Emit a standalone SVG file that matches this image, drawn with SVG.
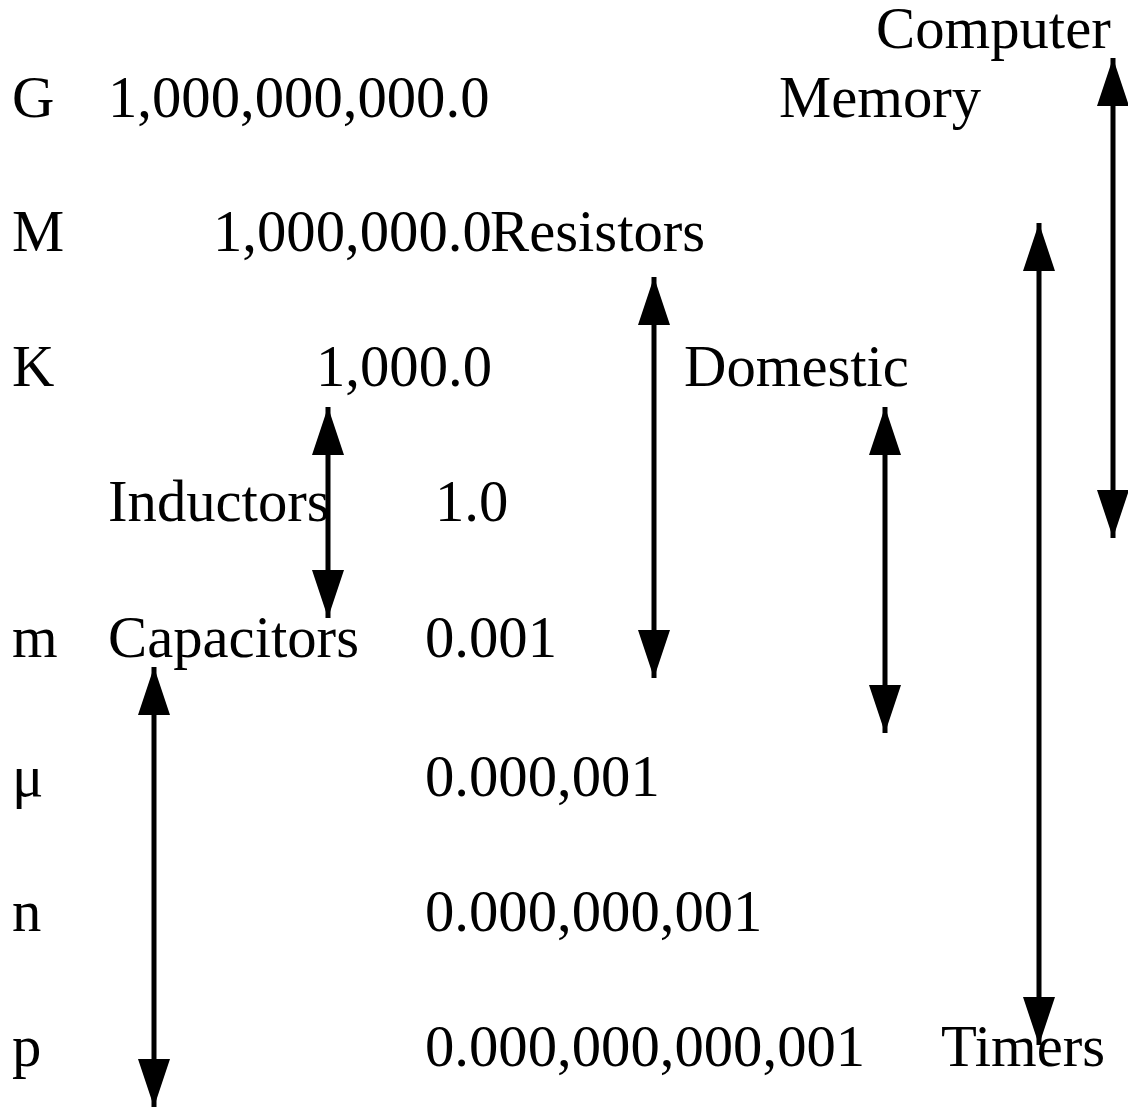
<svg xmlns="http://www.w3.org/2000/svg" width="1128" height="1108" viewBox="0 0 1128 1108">
  <style>
    text { font-family: "Liberation Serif", "Times New Roman", serif; font-size: 58.7px; fill: #000; }
    .conn line { stroke: #000; stroke-width: 5; }
  </style>
  <defs>
    <marker id="head" viewBox="0 0 48 32" refX="48" refY="16" markerWidth="48" markerHeight="32" markerUnits="userSpaceOnUse" orient="auto-start-reverse">
      <path d="M0,0 L48,16 L0,32 Z" fill="#000"/>
    </marker>
  </defs>
  <rect width="1128" height="1108" fill="#fff"/>

  <!-- prefix column -->
  <g id="prefixes">
    <text x="12" y="117">G</text>
    <text x="12" y="251">M</text>
    <text x="12" y="386">K</text>
    <text x="12" y="657">m</text>
    <text x="12" y="796">μ</text>
    <text x="12" y="931">n</text>
    <text x="12" y="1066">p</text>
  </g>

  <!-- value column -->
  <g id="values">
    <text x="108" y="117">1,000,000,000.0</text>
    <text x="213" y="251">1,000,000.0</text>
    <text x="316" y="386">1,000.0</text>
    <text x="435" y="521">1.0</text>
    <text x="425" y="657">0.001</text>
    <text x="425" y="796">0.000,001</text>
    <text x="425" y="931">0.000,000,001</text>
    <text x="425" y="1066">0.000,000,000,001</text>
  </g>

  <!-- component ranges -->
  <g id="inductors"><text x="108" y="521">Inductors</text></g>
  <g id="capacitors"><text x="108" y="657">Capacitors</text></g>
  <g id="resistors"><text x="490" y="251">Resistors</text></g>
  <g id="domestic"><text x="684" y="386">Domestic</text></g>
  <g id="memory"><text x="779" y="117">Memory</text></g>
  <g id="computer"><text x="876" y="48">Computer</text></g>
  <g id="timers"><text x="941" y="1066">Timers</text></g>

  <!-- range arrows -->
  <g class="conn" id="connectors">
    <line x1="328" y1="407" x2="328" y2="618" marker-start="url(#head)" marker-end="url(#head)"/>
    <line x1="654" y1="277" x2="654" y2="678" marker-start="url(#head)" marker-end="url(#head)"/>
    <line x1="885" y1="407" x2="885" y2="733" marker-start="url(#head)" marker-end="url(#head)"/>
    <line x1="1039" y1="223" x2="1039" y2="1045" marker-start="url(#head)" marker-end="url(#head)"/>
    <line x1="1113" y1="58" x2="1113" y2="538" marker-start="url(#head)" marker-end="url(#head)"/>
    <line x1="154" y1="667" x2="154" y2="1107" marker-start="url(#head)" marker-end="url(#head)"/>
  </g>
</svg>
